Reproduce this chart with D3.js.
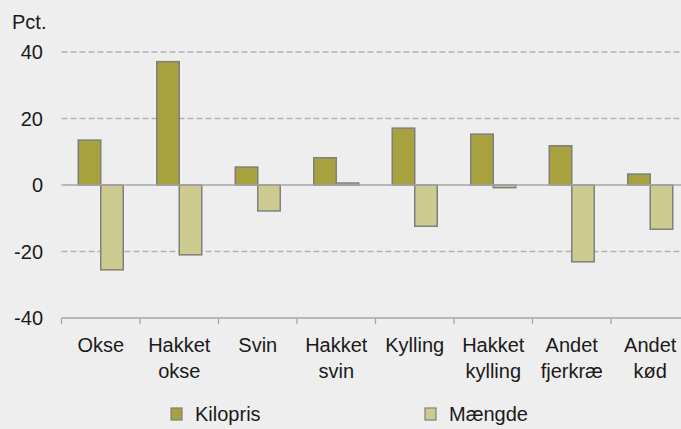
<!DOCTYPE html>
<html>
<head>
<meta charset="utf-8">
<script src="https://cdn.jsdelivr.net/npm/d3@7"></script>
<style>
  html, body { margin: 0; padding: 0; background: #eeeeee; }
  svg { display: block; font-family: "Liberation Sans", Arial, sans-serif; }
</style>
</head>
<body>
<div id="chart"></div>
<script>
// Categories (two-line labels) and series values, pct.
var categories = [
  ['Okse'], ['Hakket', 'okse'], ['Svin'], ['Hakket', 'svin'],
  ['Kylling'], ['Hakket', 'kylling'], ['Andet', 'fjerkræ'], ['Andet', 'kød']
];
var kilopris = [13.5, 37.1, 5.4, 8.2, 17.1, 15.3, 11.8, 3.3];
var maengde = [-25.5, -21.0, -7.8, 0.6, -12.4, -0.8, -23.1, -13.3];
var seriesNames = ['Kilopris', 'Mængde'];
var yTicks = [-40, -20, 0, 20, 40];

var colors = ['#a8a23e', '#cdcb8f'];

var width = 681, height = 429;
var plotLeft = 61.5, plotTop = 52, plotH = 266;
var bandW = 78.5;

var svg = d3.select('#chart').append('svg')
  .attr('width', width)
  .attr('height', height);

var x = d3.scaleBand()
  .domain(d3.range(categories.length))
  .range([plotLeft, plotLeft + bandW * categories.length])
  .paddingInner(0).paddingOuter(0);

var x1 = d3.scaleBand()
  .domain([0, 1])
  .range([0, bandW])
  .paddingInner(0)
  .paddingOuter(0.745);

var y = d3.scaleLinear()
  .domain([-40, 40])
  .range([plotTop + plotH, plotTop]);

// Gridlines
svg.append('g').selectAll('line')
  .data(yTicks.filter(function (d) { return d !== 0 && d !== -40; }))
  .enter().append('line')
  .attr('x1', plotLeft).attr('x2', width)
  .attr('y1', function (d) { return y(d); })
  .attr('y2', function (d) { return y(d); })
  .attr('stroke', '#b3b3b3')
  .attr('stroke-width', 1.3)
  .attr('stroke-dasharray', '6,3');

// Y labels
svg.append('g').selectAll('text')
  .data(yTicks)
  .enter().append('text')
  .attr('x', 43)
  .attr('y', function (d) { return y(d) + 7; })
  .attr('text-anchor', 'end')
  .attr('font-size', 20)
  .attr('fill', '#1a1a1a')
  .text(function (d) { return d; });

svg.append('text')
  .attr('x', 12).attr('y', 29)
  .attr('font-size', 20)
  .attr('fill', '#1a1a1a')
  .text('Pct.');

// Bars
var rows = categories.map(function (c, i) { return [kilopris[i], maengde[i]]; });

var groups = svg.append('g').selectAll('g')
  .data(rows)
  .enter().append('g')
  .attr('transform', function (d, i) { return 'translate(' + x(i) + ',0)'; });

groups.selectAll('rect')
  .data(function (d) { return d; })
  .enter().append('rect')
  .attr('x', function (d, j) { return x1(j); })
  .attr('width', x1.bandwidth())
  .attr('y', function (d) { return y(Math.max(0, d)); })
  .attr('height', function (d) { return Math.abs(y(d) - y(0)); })
  .attr('fill', function (d, j) { return colors[j]; })
  .attr('stroke', '#7f7f7f')
  .attr('stroke-width', 1.5);

// Zero line
svg.append('line')
  .attr('x1', plotLeft).attr('x2', width)
  .attr('y1', y(0)).attr('y2', y(0))
  .attr('stroke', '#a6a6a6')
  .attr('stroke-width', 1.3);

// Bottom axis with category boundary ticks
var axisY = y(-40);
svg.append('line')
  .attr('x1', plotLeft).attr('x2', width)
  .attr('y1', axisY).attr('y2', axisY)
  .attr('stroke', '#a6a6a6')
  .attr('stroke-width', 1.3);

svg.append('g').selectAll('line')
  .data(d3.range(categories.length))
  .enter().append('line')
  .attr('x1', function (i) { return x(i); })
  .attr('x2', function (i) { return x(i); })
  .attr('y1', axisY).attr('y2', axisY + 6)
  .attr('stroke', '#a6a6a6')
  .attr('stroke-width', 1.3);

// Category labels
var labels = svg.append('g').selectAll('text')
  .data(categories)
  .enter().append('text')
  .attr('x', function (d, i) { return x(i) + bandW / 2; })
  .attr('y', 352)
  .attr('text-anchor', 'middle')
  .attr('font-size', 20)
  .attr('fill', '#1a1a1a');

labels.selectAll('tspan')
  .data(function (d) { return d; })
  .enter().append('tspan')
  .attr('x', function () { return d3.select(this.parentNode).attr('x'); })
  .attr('dy', function (d, j) { return j === 0 ? 0 : 26; })
  .text(function (d) { return d; });

// Legend
var legendX = [171, 425];
var legend = svg.append('g').selectAll('g')
  .data(seriesNames)
  .enter().append('g')
  .attr('transform', function (d, i) { return 'translate(' + legendX[i] + ',408)'; });

legend.append('rect')
  .attr('width', 11).attr('height', 12)
  .attr('fill', function (d, i) { return colors[i]; })
  .attr('stroke', '#7f7f7f')
  .attr('stroke-width', 1.2);

legend.append('text')
  .attr('x', 24).attr('y', 13)
  .attr('font-size', 20)
  .attr('fill', '#1a1a1a')
  .text(function (d) { return d; });
</script>
</body>
</html>
